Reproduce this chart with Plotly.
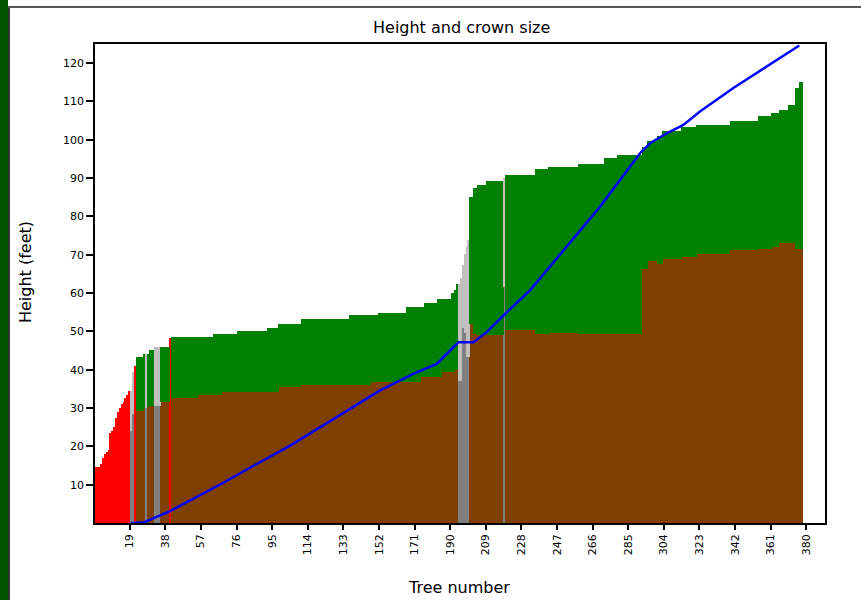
import plotly.graph_objects as go

# Run-length segments of trees: count, total height, crown base height, kind
# kind: "R" = no crown data (red), "C" = crown (brown base + green crown), "G" = grey tree
seg_count = [1, 1, 1, 1, 1, 1, 1, 1, 1, 1, 1, 1, 1, 1, 1, 1, 1, 1, 1,
             1, 1, 1, 4, 1, 1, 1, 3, 3, 5, 1,
             14, 8, 5, 8, 16, 6, 12, 26, 11, 4, 15, 8, 2, 7, 2, 5, 2, 1, 1,
             1, 1, 1, 1, 1, 1,
             2, 2, 5, 9, 1, 16, 7, 16, 14, 7, 13,
             3, 5, 3, 10, 8, 18, 15, 7, 4, 5, 4, 2, 2]
seg_total = [14.5, 14.5, 14.5, 15.5, 17, 18, 18.5, 19, 23.5, 24, 25, 27.5, 29, 30, 31, 31.5, 32.5, 33.5, 34.5,
             34.5, 39.5, 41, 43.3, 44.2, 44.2, 44.2, 45.2, 45.9, 46, 48.3,
             48.5, 48.5, 49.2, 49.2, 50.2, 51, 52, 53.3, 54.2, 54.2, 54.9, 56.4, 56.4, 57.4, 58.5, 58.5, 59.9, 60.9, 62.5,
             62.5, 64, 67.3, 70.3, 72, 73.8,
             85, 87.3, 88.2, 89.3, 90, 90.8, 92.3, 92.8, 93.8, 95.2, 96.1,
             98.2, 99.6, 100.9, 102.2, 103.3, 103.9, 104.8, 106.1, 107, 107.8, 109.2, 113.5, 115]
seg_base = [14.5, 14.5, 14.5, 15.5, 17, 18, 18.5, 19, 23.5, 24, 25, 27.5, 29, 30, 31, 31.5, 32.5, 33.5, 34.5,
            24, 28.5, 41, 29.3, 30, 30, 30.3, 30.6, 30.6, 31.5, 48.3,
            32.5, 33.5, 33.5, 34.3, 34.3, 34.3, 35.4, 36, 36, 36.8, 36.8, 36.8, 38, 38, 38, 39.5, 39.5, 39.8, 40,
            37, 37, 51, 49.5, 43.3, 43.3,
            52, 49.4, 49, 49, 61.6, 50.3, 49.4, 49.6, 49.4, 49.2, 49.4,
            66.4, 68.3, 67.7, 68.8, 69.5, 70.3, 71.2, 71.6, 72, 73, 73, 71.6, 71.6]
seg_kind = ["R"] * 19 + ["G", "G", "R", "C", "C", "G", "C", "C", "G", "C", "R"] + \
           ["C"] * 19 + ["G"] * 6 + ["C", "C", "C", "C", "G", "C", "C", "C", "C", "C", "C"] + ["C"] * 13

# Blue line (read points): tree number, height
line_x = [19.6, 26.3, 40.5, 51.2, 69, 86.8, 104.6, 127.7, 152.6, 170.3, 182.8, 194.4, 202.4,
          209.5, 220.2, 232.6, 269.9, 280.6, 291.3, 296.6, 305.6, 314.4, 323.3, 341.1, 358.9, 376.3]
line_y = [0, 0.1, 3.1, 5.8, 10.5, 15.4, 20.2, 27.1, 34.6, 38.9, 41.5, 47.2, 47.2,
          49.8, 55, 60.7, 82.5, 89.5, 96.5, 99.1, 101.7, 103.9, 107.4, 113.5, 119.2, 124.6]

x_ticks = [19, 38, 57, 76, 95, 114, 133, 152, 171, 190, 209, 228, 247, 266, 285, 304, 323, 342, 361, 380]
y_ticks = [10, 20, 30, 40, 50, 60, 70, 80, 90, 100, 110, 120]

base_color = {"R": "#FF0000", "C": "#7F3F00", "G": "#808080"}
top_color = {"R": "#FF0000", "C": "#008000", "G": "#C0C0C0"}

trees, base, crown, bcol, tcol = [], [], [], [], []
n = 0
for c, tot, b, k in zip(seg_count, seg_total, seg_base, seg_kind):
    for _ in range(c):
        n += 1
        trees.append(n)
        base.append(b)
        crown.append(max(tot - b, 0))
        bcol.append(base_color[k])
        tcol.append(top_color[k])

fig = go.Figure()
fig.add_trace(go.Bar(x=trees, y=base, marker=dict(color=bcol, line=dict(width=0)), showlegend=False))
fig.add_trace(go.Bar(x=trees, y=crown, marker=dict(color=tcol, line=dict(width=0)), showlegend=False))
fig.add_trace(go.Scatter(x=line_x, y=line_y, mode="lines", line=dict(color="#0000FF", width=2.5), showlegend=False))

L, R, T, B = 95, 825, 44, 523
W, H = R - L, B - T

def px(v):
    return (v - L) / W

def py(v):
    return (B - v) / H

fig.update_layout(
    width=861, height=600,
    margin=dict(l=L, r=861 - R, t=T, b=600 - B, pad=0),
    paper_bgcolor="white", plot_bgcolor="white",
    barmode="stack", bargap=0,
    font=dict(family="DejaVu Sans", color="black"),
    xaxis=dict(range=[0.5, 390], tickvals=x_ticks, ticktext=[str(v) for v in x_ticks],
               tickangle=-90, ticks="outside", ticklen=5, tickwidth=1.5, tickcolor="black",
               tickfont=dict(size=11), showgrid=False, zeroline=False,
               showline=True, linecolor="black", linewidth=1.5, mirror=True),
    yaxis=dict(range=[0, 125], tickvals=y_ticks, ticktext=[str(v) for v in y_ticks],
               ticks="outside", ticklen=7, tickwidth=1.5, tickcolor="black",
               tickfont=dict(size=11), showgrid=False, zeroline=False,
               showline=True, linecolor="black", linewidth=1.5, mirror=True),
    annotations=[
        dict(text="Height and crown size", xref="paper", yref="paper", x=px(461), y=py(27),
             showarrow=False, font=dict(size=16), xanchor="center", yanchor="middle"),
        dict(text="Tree number", xref="paper", yref="paper", x=px(459), y=py(587),
             showarrow=False, font=dict(size=16), xanchor="center", yanchor="middle"),
        dict(text="Height (feet)", xref="paper", yref="paper", x=px(25), y=py(272),
             showarrow=False, font=dict(size=16), textangle=-90, xanchor="center", yanchor="middle"),
    ],
    shapes=[
        dict(type="rect", xref="paper", yref="paper", x0=px(0), x1=px(8), y0=py(600), y1=py(0),
             fillcolor="#005200", line=dict(width=0), layer="above"),
        dict(type="line", xref="paper", yref="paper", x0=px(9), x1=px(9), y0=py(600), y1=py(7),
             line=dict(color="#333333", width=2), layer="above"),
        dict(type="line", xref="paper", yref="paper", x0=px(8), x1=px(861), y0=py(7), y1=py(7),
             line=dict(color="#555555", width=2), layer="above"),
    ],
)

fig.write_html("out.html", config={"displayModeBar": False},
               post_script="document.body.style.margin='0';document.body.style.overflow='hidden';")
